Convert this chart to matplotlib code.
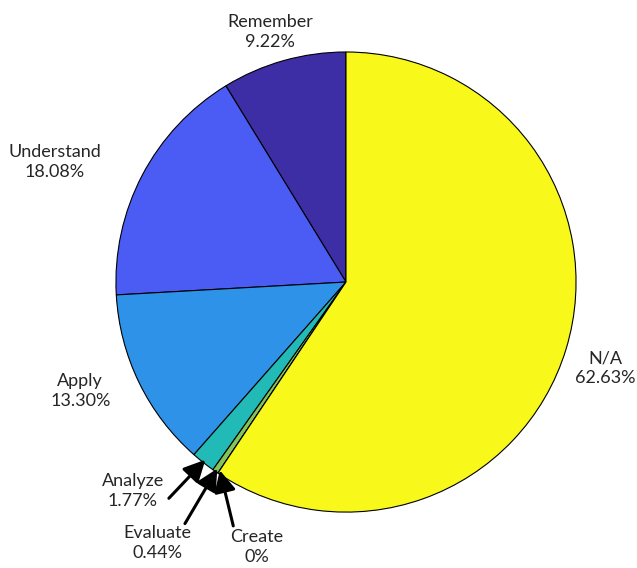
import numpy as np
import matplotlib.pyplot as plt

plt.rcParams['font.family'] = ['Lato', 'DejaVu Sans']

labels = ['Remember', 'Understand', 'Apply', 'Analyze', 'Evaluate', 'Create', 'N/A']
values = [9.22, 18.08, 13.30, 1.77, 0.44, 0.0, 62.63]
pct_text = ['9.22%', '18.08%', '13.30%', '1.77%', '0.44%', '0%', '62.63%']
colors = ['#3d2ea6', '#4a5cf4', '#2d92e8', '#21bab6', '#84c45a', '#d9b92c', '#f8f81b']

# label anchor points (text centres), pie radius = 1
label_pos = {
    'Remember': (-0.33, 1.087),
    'Understand': (-1.265, 0.52),
    'Apply': (-1.155, -0.474),
    'Analyze': (-0.926, -0.909),
    'Evaluate': (-0.82, -1.135),
    'Create': (-0.387, -1.152),
    'N/A': (1.126, -0.375),
}
# arrow tails for the thin slices
arrow_tail = {
    'Analyze': (-0.77, -0.94),
    'Evaluate': (-0.70, -1.05),
    'Create': (-0.49, -1.06),
}

fig = plt.figure(figsize=(6.37, 5.68), dpi=100)
ax = fig.add_axes([0, 0, 1, 1])

wedges, _ = ax.pie(values, colors=colors, startangle=90, counterclock=True,
                   radius=1.0, wedgeprops=dict(edgecolor='black', linewidth=0.8))
ax.set_xlim(-1.504, 1.265)
ax.set_ylim(-1.243, 1.226)
ax.set_aspect('auto')
ax.axis('off')

for w, name, pct in zip(wedges, labels, pct_text):
    x, y = label_pos[name]
    ax.text(x, y, f'{name}\n{pct}', ha='center', va='center', fontsize=13,
            color='#262626', linespacing=1.3)
    if name in arrow_tail:
        mid = np.deg2rad((w.theta1 + w.theta2) / 2)
        tip = (0.985 * np.cos(mid), 0.985 * np.sin(mid))
        ax.annotate('', xy=tip, xytext=arrow_tail[name],
                    arrowprops=dict(arrowstyle='-|>,head_length=1.3,head_width=0.65',
                                    color='black', lw=2.2, shrinkA=0, shrinkB=0))

fig.savefig('out.png', dpi=100, facecolor='white')
